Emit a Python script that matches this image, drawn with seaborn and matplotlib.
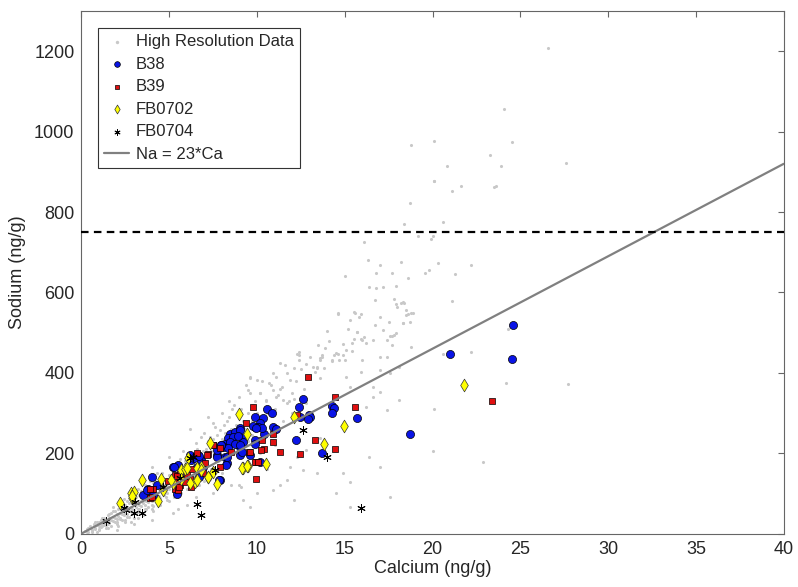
import matplotlib
matplotlib.use('Agg')
import matplotlib.pyplot as plt
import seaborn as sns

# high resolution data (gray dots)
hr_ca = [0.2, 0.3, 0.4, 0.5, 0.5, 0.6, 0.7, 0.7, 0.8, 0.9, 0.9, 1.0, 1.0, 1.1, 1.1, 1.2, 1.2, 1.3, 1.3, 1.4,
         1.4, 1.5, 1.5, 1.6, 1.6, 1.7, 1.7, 1.8, 1.8, 1.9, 1.9, 2.0, 2.0, 2.1, 2.1, 2.2, 2.2, 2.3, 2.3, 2.4,
         2.4, 2.5, 2.5, 2.6, 2.6, 2.7, 2.7, 2.8, 2.8, 2.9, 2.9, 3.0, 3.0, 3.1, 3.1, 3.2, 3.2, 3.3, 3.3, 3.4,
         3.4, 3.5, 3.5, 3.6, 3.6, 3.7, 3.7, 3.8, 3.8, 3.9, 3.9, 4.0, 4.0, 4.1, 4.1, 4.2, 4.2, 4.3, 4.4, 4.4,
         4.5, 4.5, 4.6, 4.6, 4.7, 4.8, 4.8, 4.9, 5.0, 5.0, 5.1, 5.2, 5.2, 5.3, 5.4, 5.5, 5.5, 5.6, 5.7, 5.8,
         5.9, 6.0, 6.0, 6.1, 6.2, 6.3, 6.4, 6.5, 6.5, 6.6, 6.7, 6.8, 6.9, 7.0, 7.0, 7.1, 7.2, 7.3, 7.4, 7.5,
         7.5, 7.6, 7.7, 7.8, 7.9, 8.0, 8.0, 8.2, 8.3, 8.5, 8.6, 8.8, 9.0, 9.0, 9.2, 9.4, 9.5, 9.6, 9.8, 10.0,
         10.2, 10.5, 10.8, 11.0, 11.2,
         1.0, 1.5, 2.0, 2.5, 3.0, 3.5, 4.0, 4.5, 5.0, 5.5, 6.0, 6.5, 7.0, 7.5, 8.0, 8.5, 6.0, 5.2, 4.8, 3.6,
         2.4, 1.8, 3.2, 4.3, 5.8, 6.8, 7.2, 8.4, 5.0, 4.0, 6.2, 7.8, 8.8, 9.5, 10.5, 11.5, 12.0, 9.2, 10.2, 11.0,
         0.3, 0.6, 0.8, 1.1, 1.3, 1.6, 1.9, 2.2, 2.6, 2.9, 3.3, 3.7, 4.1, 4.4, 4.9, 5.3, 5.7, 6.3, 6.7, 7.3,
         0.4, 0.6, 0.8, 1.0, 1.2, 1.4, 1.5, 1.7, 1.8, 2.0, 2.1, 2.2, 2.3, 2.5, 2.6, 2.7, 2.8, 3.0, 3.1, 3.2,
         3.3, 3.4, 3.5, 3.6, 3.8, 3.9, 4.0, 4.1, 4.2, 4.3, 4.5, 4.6, 4.7, 4.9, 5.0, 5.1, 5.3, 5.4, 5.6, 5.6,
         5.8, 5.9, 6.1, 6.2, 6.4, 6.6, 6.7, 6.9, 7.1, 7.3, 7.4, 7.6, 7.7, 7.9, 8.1, 8.1, 8.3, 8.4, 8.6, 8.7,
         8.9, 9.1, 9.3, 9.6, 9.7, 9.9, 10.1, 10.3, 10.6, 10.9, 11.3, 11.6, 11.8, 12.2, 12.5, 12.7, 13.0, 13.5,
         14.1, 2.0, 3.0, 4.0, 5.5, 6.5, 7.8, 9.0, 9.8, 10.6, 0.9, 1.6, 2.4, 3.7, 4.4, 5.7, 6.2, 7.2, 8.2, 8.9, 9.7,
         23.3, 20.8, 20.1, 21.6, 21.1, 23.6, 18.7, 18.4, 20.6, 19.2, 19.9, 20.0, 16.1, 16.3, 17.0, 18.2, 20.3, 22.2,
         16.8, 17.7, 15.0, 18.6, 19.6, 19.8, 21.3, 16.4, 16.8, 17.2, 17.9, 16.7, 17.8, 17.9, 18.2, 18.4, 18.0, 21.1,
         14.6, 15.5, 15.9, 15.3, 17.0, 17.5, 18.3, 18.6, 18.8, 14.0, 15.2, 15.7, 17.8, 17.6, 16.6, 17.4, 17.7, 16.1,
         16.0, 15.5, 15.4, 14.9, 15.1, 15.4, 14.6, 14.4, 13.9, 13.7, 13.6, 14.3, 15.0, 16.0, 12.4, 12.4, 11.3, 12.1,
         13.2, 13.4, 13.8, 22.2, 20.6, 26.6, 24.1, 18.8, 20.1, 24.5, 23.9, 27.6, 20.1, 23.5, 24.3, 24.2, 27.7,
         18.5, 18.3, 20.1, 20.0, 22.9, 18.8, 14.6, 15.6, 15.8, 16.7, 17.2, 17.7, 17.9, 18.3, 18.5, 18.9, 18.7,
         15.7, 15.9, 16.2, 13.6, 13.7, 14.3, 14.5, 14.7, 14.9, 17.0, 17.4, 12.3, 12.4, 12.8, 17.0, 17.6, 18.1,
         15.9, 15.1, 13.4, 13.3, 13.6, 11.9, 11.4, 10.9, 10.7, 11.7, 11.1, 10.0, 9.6, 9.5, 10.2, 10.5, 11.1,
         11.5, 12.0, 12.1, 11.7, 12.8, 16.6, 17.0, 15.3, 16.6, 16.2, 17.4, 18.1, 13.6, 12.8, 12.3, 11.9, 12.6,
         13.4, 11.7, 11.3, 12.1, 10.9, 9.1, 9.2, 10.0, 9.6, 17.6, 15.3, 14.5, 14.9, 15.3, 16.4, 17.0]
hr_na = [6, 12, 5, 14, 20, 10, 18, 25, 15, 22, 30, 18, 28, 24, 35, 20, 30, 27, 40, 22,
         34, 30, 45, 28, 38, 35, 50, 32, 42, 40, 55, 36, 48, 44, 60, 40, 52, 48, 66, 45,
         56, 52, 70, 48, 62, 58, 75, 55, 66, 62, 85, 58, 72, 66, 90, 62, 76, 72, 95, 68,
         82, 75, 102, 72, 88, 80, 110, 78, 92, 86, 115, 82, 98, 92, 125, 88, 105, 98, 94, 112,
         105, 140, 100, 120, 112, 108, 130, 118, 112, 145, 125, 118, 160, 132, 126, 140, 175, 135, 150, 142,
         160, 150, 195, 165, 155, 175, 165, 185, 225, 172, 192, 180, 205, 190, 250, 210, 198, 220, 205, 235,
         275, 215, 245, 225, 258, 235, 300, 250, 280, 260, 310, 270, 290, 340, 280, 370, 300, 390, 320, 300,
         350, 330, 370, 310, 345,
         8, 15, 25, 35, 40, 50, 60, 70, 80, 95, 110, 120, 130, 100, 150, 120, 70, 50, 90, 120,
         85, 65, 110, 150, 205, 240, 290, 330, 190, 165, 260, 180, 200, 230, 250, 280, 300, 160, 200, 220,
         3, 8, 12, 16, 22, 26, 30, 36, 42, 48, 54, 60, 68, 75, 84, 92, 100, 112, 122, 135,
         15, 4, 28, 12, 38, 14, 24, 20, 55, 30, 18, 70, 35, 28, 80, 42, 30, 95, 50, 38,
         60, 105, 45, 60, 65, 130, 72, 55, 130, 80, 88, 150, 95, 100, 125, 165, 105, 150, 115, 185,
         125, 180, 135, 200, 145, 210, 150, 170, 180, 240, 160, 265, 190, 210, 220, 270, 230, 290, 240, 320,
         250, 310, 260, 350, 280, 330, 290, 380, 300, 400, 360, 420, 330, 380, 410, 360, 440, 470,
         480, 10, 25, 35, 60, 90, 140, 120, 180, 160, 4, 48, 64, 100, 120, 170, 175, 230, 195, 215, 245,
         942, 914, 878, 864, 853, 864, 823, 770, 776, 740, 734, 740, 726, 682, 668, 676, 674, 668,
         649, 649, 641, 635, 649, 657, 647, 614, 612, 614, 616, 581, 583, 571, 574, 573, 564, 579,
         548, 552, 546, 531, 538, 527, 525, 546, 549, 505, 508, 502, 494, 491, 481, 481, 469, 488,
         481, 483, 473, 471, 456, 455, 448, 444, 461, 440, 433, 430, 433, 433, 452, 444, 425, 411,
         415, 411, 411, 452, 448, 1209, 1057, 967, 978, 975, 915, 921, 877, 863, 508, 374, 371,
         544, 525, 310, 205, 177, 465, 546, 549, 540, 519, 506, 491, 498, 577, 556, 548, 527,
         502, 483, 475, 436, 444, 432, 450, 432, 444, 440, 440, 448, 432, 423, 407, 399, 415,
         403, 390, 415, 403, 386, 382, 365, 357, 374, 399, 390, 382, 386, 357, 349, 332, 341,
         332, 349, 336, 324, 324, 341, 353, 365, 365, 316, 307, 332, 237, 208, 191, 166, 158,
         150, 133, 121, 83, 108, 117, 83, 100, 67, 92, 67, 100, 150, 129, 191, 166]

# B38 samples
b38_ca = [24.6, 21.0, 24.5, 18.7, 15.7, 12.6, 12.4, 14.25, 14.4, 14.25, 12.96, 13.0, 12.9, 12.44, 12.25, 13.7,
          9.88, 10.55, 10.83, 10.35, 10.17, 10.07, 9.88, 10.92, 11.06, 10.41, 10.26, 9.03, 9.12, 9.03, 9.03, 9.22,
          9.88, 10.17, 9.78, 9.94, 8.46, 8.74, 9.03, 8.36, 8.64, 8.93, 8.17, 8.46, 8.74, 9.03, 8.08, 8.36, 7.98,
          9.88, 9.12, 9.6, 7.7, 8.17, 8.27, 6.65, 6.18, 6.27, 6.84, 7.89, 5.23, 5.51, 5.46, 4.0, 3.8, 3.52, 4.0,
          3.71, 4.28, 4.09, 5.28, 6.4, 6.7, 6.6, 6.7, 6.9, 7.7, 7.85, 8.23, 8.27, 7.98, 7.7]
b38_na = [520, 447, 434, 247, 288, 336, 316, 317, 312, 301, 295, 289, 286, 291, 234, 200,
          291, 309, 299, 287, 274, 266, 266, 266, 259, 249, 262, 262, 237, 216, 195, 229,
          233, 177, 267, 262, 249, 253, 257, 237, 241, 243, 224, 228, 224, 220, 216, 212, 220,
          224, 203, 195, 195, 191, 175, 195, 195, 183, 183, 133, 166, 170, 98, 141, 112, 96, 96,
          108, 121, 96, 166, 187, 193, 166, 141, 166, 191, 133, 170, 191, 220, 208]

# B39 samples
b39_ca = [23.36, 12.92, 14.44, 15.57, 12.29, 13.33, 14.47, 12.44, 11.32, 10.92, 10.92, 10.26, 10.39, 10.22,
          9.37, 9.79, 9.56, 9.92, 9.94, 9.88, 10.07, 7.47, 8.55, 7.89, 7.19, 6.56, 7.03, 7.89, 5.32, 5.61,
          5.99, 6.18, 5.42, 5.61, 5.89, 6.27, 5.32, 5.51, 4.09, 3.9, 4.94, 3.9, 4.05, 5.42, 5.57, 7.13, 7.5,
          9.6, 6.9, 6.3]
b39_na = [331, 390, 341, 316, 295, 233, 210, 198, 203, 249, 227, 234, 210, 209,
          274, 314, 204, 177, 137, 179, 179, 220, 203, 212, 197, 201, 175, 166, 146, 150,
          146, 137, 133, 121, 129, 116, 112, 108, 110, 88, 131, 110, 92, 143, 116, 195, 220,
          203, 150, 160]

# FB0702 samples
fb0702_ca = [21.78, 14.97, 13.83, 12.12, 9.44, 10.51, 9.5, 9.18, 8.99, 7.32, 6.08, 6.84, 6.56, 7.5, 7.22,
             7.7, 9.12, 9.44, 5.7, 5.89, 5.23, 5.13, 6.46, 6.18, 2.19, 2.86, 2.82, 3.0, 2.89, 3.46, 4.34,
             4.53, 4.66, 5.99, 5.7, 6.56, 6.84, 7.22]
fb0702_na = [370, 268, 224, 289, 247, 172, 168, 164, 297, 226, 187, 166, 162, 154, 141,
             123, 162, 168, 158, 160, 125, 133, 129, 125, 77, 88, 100, 104, 93, 133, 82,
             135, 108, 162, 137, 133, 158, 140]

# FB0704 samples
fb0704_ca = [1.38, 2.44, 2.52, 3.0, 3.43, 3.05, 4.66, 6.56, 6.84, 5.61, 6.37, 6.18, 7.6, 12.63, 14.0, 15.92]
fb0704_na = [31, 63, 58, 52, 52, 79, 116, 73, 46, 139, 191, 187, 158, 258, 191, 63]

# reference line Na = 23*Ca and threshold
line_ca = [0, 40]
line_na = [0, 920]
threshold = 750

sns.set_style('white')
plt.rcParams['font.family'] = ['Liberation Sans', 'DejaVu Sans']

fig = plt.figure(figsize=(7.98, 5.87), dpi=100)
ax = fig.add_axes([0.102, 0.091, 0.880, 0.890])

sns.scatterplot(x=hr_ca, y=hr_na, ax=ax, color='#c8c8c8', s=5, linewidth=0,
                marker='o', label='High Resolution Data', zorder=2)
sns.scatterplot(x=b38_ca, y=b38_na, ax=ax, color='#0a14e6', s=34, edgecolor='black',
                linewidth=0.5, marker='o', label='B38', zorder=3)
sns.scatterplot(x=b39_ca, y=b39_na, ax=ax, color='#e01010', s=24, edgecolor='black',
                linewidth=0.5, marker='s', label='B39', zorder=3)
sns.scatterplot(x=fb0702_ca, y=fb0702_na, ax=ax, color='#ffff00', s=42, edgecolor='#333333',
                linewidth=0.5, marker='d', label='FB0702', zorder=3)
sns.scatterplot(x=fb0704_ca, y=fb0704_na, ax=ax, color='black', s=30,
                linewidth=0.7, marker=(6, 2, 0), label='FB0704', zorder=3)
sns.lineplot(x=line_ca, y=line_na, ax=ax, color='#808080', linewidth=1.6,
             label='Na = 23*Ca', zorder=4)
ax.axhline(threshold, color='black', linewidth=1.6, linestyle=(0, (3.4, 2.4)), zorder=4)

ax.set_xlim(0, 40)
ax.set_ylim(0, 1300)
ax.set_xticks(range(0, 41, 5))
ax.set_yticks(range(0, 1201, 200))
ax.set_xlabel('Calcium (ng/g)', fontsize=13, color='#262626', labelpad=2)
ax.set_ylabel('Sodium (ng/g)', fontsize=13, color='#262626', labelpad=6)
ax.tick_params(direction='in', top=True, right=True, length=4, width=0.8,
               color='#666666', labelsize=13, labelcolor='#262626', pad=5)
for sp in ax.spines.values():
    sp.set_color('#666666')
    sp.set_linewidth(0.8)

leg = ax.legend(loc='upper left', bbox_to_anchor=(0.024, 0.967), fontsize=12,
                frameon=True, fancybox=False, framealpha=1, edgecolor='#333333',
                borderaxespad=0, handlelength=1.5, handletextpad=0.4,
                labelspacing=0.45, borderpad=0.35, markerscale=0.7)
leg.get_frame().set_linewidth(0.8)
leg.legend_handles[0].set_sizes([6])

fig.savefig('out.png', dpi=100)
